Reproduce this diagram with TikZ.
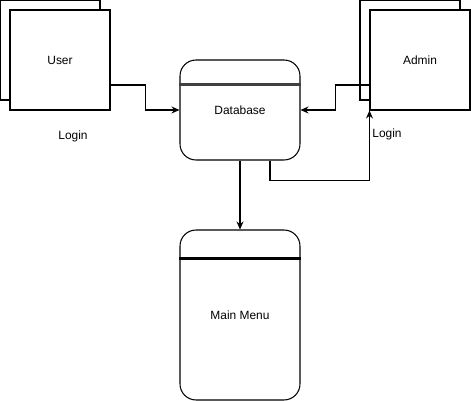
\documentclass[tikz,border=0pt]{standalone}
\usepackage{fontspec}
\setmainfont{Liberation Sans}
\usetikzlibrary{positioning,calc,arrows.meta}

\begin{document}
\begin{tikzpicture}[x=0.02cm,y=-0.02cm,
    every node/.style={font=\fontsize{6.8}{8}\selectfont},
    entity/.style={draw, line width=0.6pt, fill=white, minimum width=2cm, minimum height=2cm, inner sep=0pt},
    store/.style={draw, line width=0.6pt, fill=white, rounded corners=0.32cm, minimum width=2.4cm, inner sep=0pt},
    arr/.style={line width=0.6pt, -{Stealth[length=4.6pt,width=4pt,inset=1.6pt]}}]
        \useasboundingbox (0,0) rectangle (471,401);
        % external entities
        \node[entity] (userback) at (50,50) {};
        \node[entity] (user) at (60,60) {User};
        \node[entity] (adminback) at (410,50) {};
        \node[entity] (admin) at (420,60) {Admin};
        % data store and process
        \node[store, minimum height=2cm] (db) at (240,110) {Database};
        \draw[line width=1.3pt, black!75] ($(db.north west)+(0,-0.5cm)$) -- ($(db.north east)+(0,-0.5cm)$);
        \node[store, minimum height=3.4cm] (menu) at (240,315) {Main Menu};
        \draw[line width=1.7pt] ($(menu.north west)+(0,-0.59cm)$) -- ($(menu.north east)+(0,-0.59cm)$);
        % flows
        \draw[arr] ($(user.east)+(0,-0.5cm)$) -- ++(0.7cm,0) |- (db.west);
        \draw[arr] ($(admin.west)+(0,-0.5cm)$) -- ++(-0.68cm,0) |- (db.east);
        \draw[arr] ($(db.south)+(0.6cm,0)$) -- ++(0,-0.4cm) -| (admin.south west);
        \draw[arr] (db.south) -- (menu.north);
        \node (login1) at (73,136) {Login};
        \node (login2) at (387,134) {Login};
\end{tikzpicture}
\end{document}
